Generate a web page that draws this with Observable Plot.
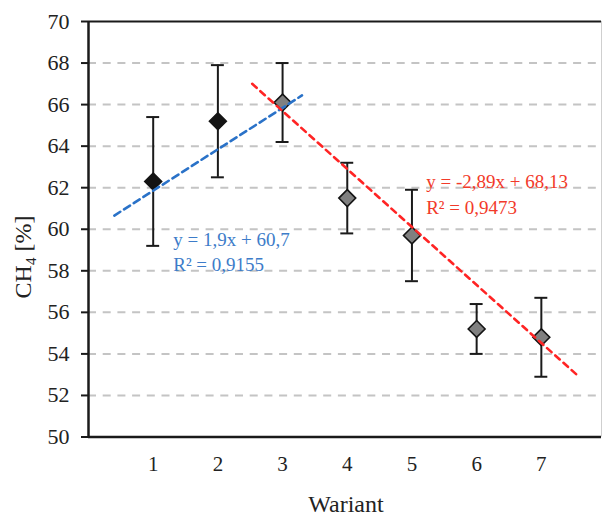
<!DOCTYPE html>
<html>
<head>
<meta charset="utf-8">
<script src="https://cdn.jsdelivr.net/npm/d3@7"></script>
<script src="https://cdn.jsdelivr.net/npm/@observablehq/plot@0.6"></script>
<style>
  html, body { margin: 0; padding: 0; background: #fff; }
  #chart svg { display: block; font-family: "Liberation Serif", "Times New Roman", serif; }
</style>
</head>
<body>
<div id="chart"></div>
<script>
// ---- data ----
const variants = [1, 2, 3, 4, 5, 6, 7];
const ch4      = [62.3, 65.2, 66.1, 61.5, 59.7, 55.2, 54.8];
const errLow   = [59.2, 62.5, 64.2, 59.8, 57.5, 54.0, 52.9];
const errHigh  = [65.4, 67.9, 68.0, 63.2, 61.9, 56.4, 56.7];
const yTicks   = [50, 52, 54, 56, 58, 60, 62, 64, 66, 68, 70];
const gridTicks = [52, 54, 56, 58, 60, 62, 64, 66, 68];

// trend lines (endpoints as drawn)
const blueTrendX = [0.4, 3.3];
const blueTrendY = [60.66, 66.44];
const redTrendX  = [2.53, 7.59];
const redTrendY  = [67.0, 52.88];

const blueEq = ["y = 1,9x + 60,7", "R² = 0,9155"];
const redEq  = ["y = -2,89x + 68,13", "R² = 0,9473"];

const points = variants.map((v, i) => ({x: v, y: ch4[i], lo: errLow[i], hi: errHigh[i], i}));
const blueTrend = blueTrendX.map((x, i) => ({x, y: blueTrendY[i]}));
const redTrend = redTrendX.map((x, i) => ({x, y: redTrendY[i]}));

const FONT = "Liberation Serif";
const XMAX = 7.93;
const capHalf = 0.1;

const chart = Plot.plot({
  width: 603,
  height: 517,
  marginLeft: 88,
  marginRight: 2,
  marginTop: 21,
  marginBottom: 80.5,
  style: "font-family: 'Liberation Serif', serif; background: #fff;",
  x: {domain: [0, XMAX]},
  y: {domain: [50, 70]},
  marks: [
    // dashed gridlines
    Plot.ruleY(gridTicks, {stroke: "#c4c4c4", strokeWidth: 2, strokeDasharray: "8,6.7"}),
    // right frame edge
    Plot.ruleX([XMAX], {stroke: "#cfcfcf", strokeWidth: 1}),
    // top line
    Plot.ruleY([70], {x1: 0, x2: XMAX, stroke: "#1a1a1a", strokeWidth: 2}),
    // error bars
    Plot.ruleX(points, {x: "x", y1: "lo", y2: "hi", stroke: "#1a1a1a", strokeWidth: 2}),
    Plot.ruleY(points, {y: "hi", x1: d => d.x - capHalf, x2: d => d.x + capHalf, stroke: "#1a1a1a", strokeWidth: 2}),
    Plot.ruleY(points, {y: "lo", x1: d => d.x - capHalf, x2: d => d.x + capHalf, stroke: "#1a1a1a", strokeWidth: 2}),
    // diamonds
    Plot.dot(points, {
      x: "x", y: "y", symbol: "diamond2", r: 7.6,
      fill: d => d.i < 2 ? "#141414" : "#808080",
      stroke: "#141414", strokeWidth: 1.6
    }),
    // trend lines
    Plot.line(blueTrend, {x: "x", y: "y", stroke: "#2a72c8", strokeWidth: 2.6, strokeDasharray: "7,4.5"}),
    Plot.line(redTrend, {x: "x", y: "y", stroke: "#ff2424", strokeWidth: 2.6, strokeDasharray: "6,5"}),
    // equations
    Plot.text(blueEq, {x: [1.31, 1.31], y: [59.5, 58.3], text: d => d, textAnchor: "start", lineAnchor: "middle", fill: "#3d7cc9", fontSize: 19, fontFamily: FONT}),
    Plot.text(redEq, {x: [5.22, 5.22], y: [62.26, 61.03], text: d => d, textAnchor: "start", lineAnchor: "middle", fill: "#f23a2a", fontSize: 19, fontFamily: FONT}),
    // axes
    Plot.axisY(yTicks, {tickSize: 7, tickPadding: 12, fontSize: 22, fontFamily: FONT, stroke: "#1a1a1a", strokeWidth: 2, fill: "#222", label: null}),
    Plot.axisX(variants, {tickSize: 0, tickPadding: 19, fontSize: 21, fontFamily: FONT, fill: "#222", label: null}),
    Plot.ruleX([0], {stroke: "#1a1a1a", strokeWidth: 2.5}),
    Plot.ruleY([50], {x1: 0, x2: XMAX, stroke: "#1a1a1a", strokeWidth: 2.6})
  ]
});

const svg = d3.select(chart);
// x axis title
svg.append("text")
  .attr("x", 346).attr("y", 512)
  .attr("text-anchor", "middle")
  .attr("font-family", FONT).attr("font-size", 24).attr("fill", "#222")
  .text("Wariant");
// y axis title with subscript
const yt = svg.append("text")
  .attr("transform", "translate(31,257) rotate(-90)")
  .attr("text-anchor", "middle")
  .attr("font-family", FONT).attr("font-size", 24).attr("fill", "#222");
yt.append("tspan").text("CH");
yt.append("tspan").attr("font-size", 15).attr("dy", 5).text("4");
yt.append("tspan").attr("dy", -5).text(" [%]");

document.getElementById("chart").appendChild(chart);
</script>
</body>
</html>
